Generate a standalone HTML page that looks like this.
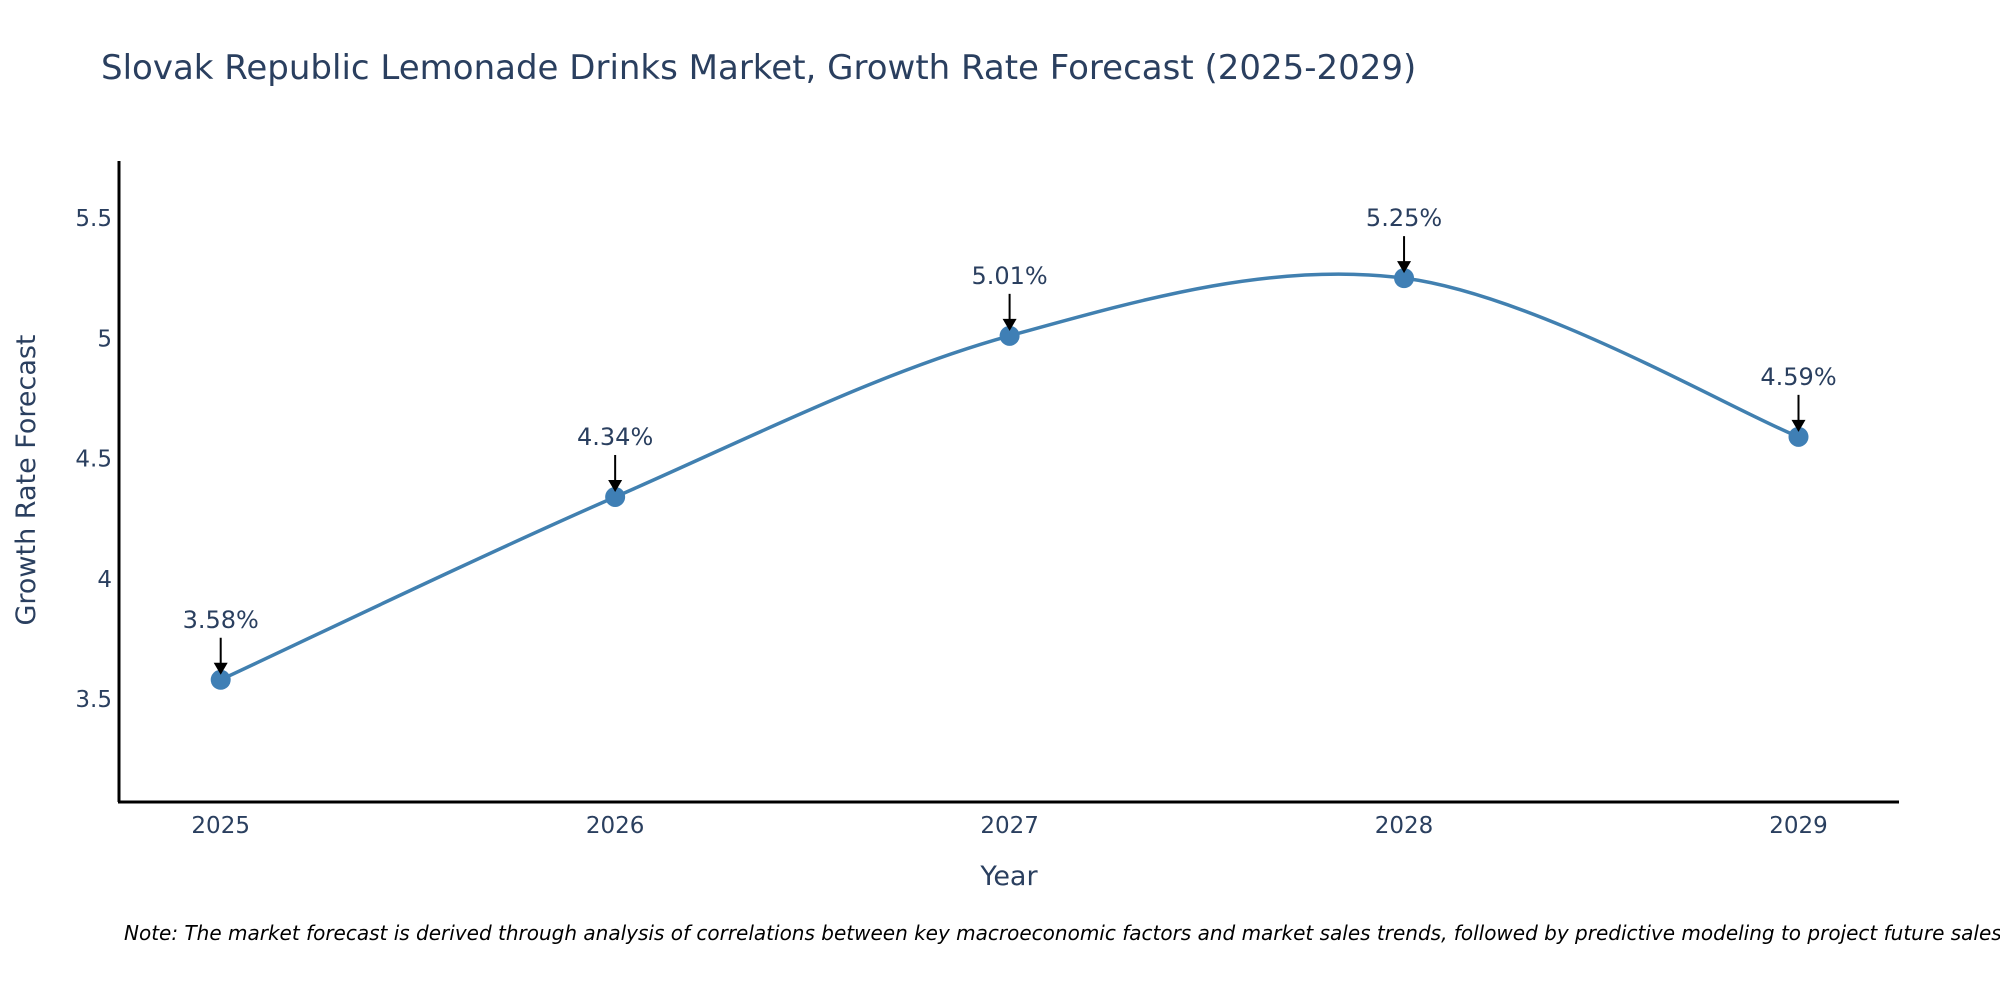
<!DOCTYPE html>
<html><head><meta charset="utf-8"><style>
body{margin:0;background:#fff}
svg{display:block;font-family:"DejaVu Sans","Liberation Sans",sans-serif}
</style></head><body>
<svg id="chart" width="2000" height="1000">
<text x="101" y="79" font-size="34" fill="#2a3f5f">Slovak Republic Lemonade Drinks Market, Growth Rate Forecast (2025-2029)</text>
<line x1="119" y1="161" x2="119" y2="802" stroke="#000" stroke-width="3"/>
<line x1="118" y1="802" x2="1899" y2="802" stroke="#000" stroke-width="3"/>
<g id="yticks"></g><g id="xticks"></g>
<path id="line" fill="none" stroke="#4180b0" stroke-width="3.5"/>
<g id="marks"></g>
<text transform="translate(35,480) rotate(-90)" text-anchor="middle" font-size="27" fill="#2a3f5f">Growth Rate Forecast</text>
<text x="1009" y="885" text-anchor="middle" font-size="27" fill="#2a3f5f">Year</text>
<text x="124" y="940" font-size="20" font-style="italic" fill="#000">Note: The market forecast is derived through analysis of correlations between key macroeconomic factors and market sales trends, followed by predictive modeling to project future sales.</text>
</svg>
<script>
const years=[2025,2026,2027,2028,2029];
const values=[3.58,4.34,5.01,5.25,4.59];
const yTicks=[3.5,4,4.5,5,5.5];
const ns="http://www.w3.org/2000/svg";
const X=v=>220.7+(v-2025)*(1798.5-220.7)/4;
const Y=v=>699-(v-3.5)*481/2;
function mk(t,a,p){const e=document.createElementNS(ns,t);for(const k in a)e.setAttribute(k,a[k]);p.appendChild(e);return e;}
const yt=document.getElementById('yticks');
yTicks.forEach(v=>{const t=mk('text',{x:112,y:Y(v)+8,'text-anchor':'end','font-size':23,fill:'#2a3f5f'},yt);t.textContent=String(v);

});
const xt=document.getElementById('xticks');
years.forEach(v=>{const t=mk('text',{x:X(v),y:833,'text-anchor':'middle','font-size':23,fill:'#2a3f5f'},xt);t.textContent=String(v);

});
const P=years.map((y,i)=>[X(y),Y(values[i])]);
let d='M'+P[0][0]+','+P[0][1];
for(let i=0;i<P.length-1;i++){const p0=P[Math.max(i-1,0)],p1=P[i],p2=P[i+1],p3=P[Math.min(i+2,P.length-1)];
const c1=[p1[0]+(p2[0]-p0[0])/6,p1[1]+(p2[1]-p0[1])/6],c2=[p2[0]-(p3[0]-p1[0])/6,p2[1]-(p3[1]-p1[1])/6];
d+=' C'+c1+' '+c2+' '+p2;}
document.getElementById('line').setAttribute('d',d);
const m=document.getElementById('marks');
P.forEach((p,i)=>{const c=mk('circle',{cx:p[0],cy:p[1],r:10,fill:'#3f7fb5'},m);


const l=mk('line',{x1:p[0],y1:p[1]-42,x2:p[0],y2:p[1]-14,stroke:'#000','stroke-width':2},m);


const a=mk('path',{d:`M${p[0]-7},${p[1]-17} L${p[0]+7},${p[1]-17} L${p[0]},${p[1]-5} Z`,fill:'#000'},m);


const t=mk('text',{x:p[0],y:p[1]-52,'text-anchor':'middle','font-size':24,fill:'#2a3f5f'},m);t.textContent=values[i].toFixed(2)+'%';

});
</script>
</body></html>
